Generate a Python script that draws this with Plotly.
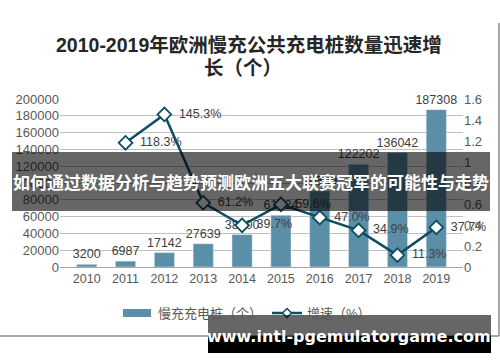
import plotly.graph_objects as go

years = ["2010", "2011", "2012", "2013", "2014", "2015", "2016", "2017", "2018", "2019"]
chargers = [3200, 6987, 17142, 27639, 38600, 61624, 90589, 122202, 136042, 187308]
growth = [None, 1.183, 1.453, 0.612, 0.397, 0.596, 0.470, 0.349, 0.113, 0.377]
growth_labels = ["", "118.3%", "145.3%", "61.2%", "39.7%", "59.6%", "47.0%", "34.9%", "11.3%", "37.7%"]

title_l1 = "2010-2019年欧洲慢充公共充电桩数量迅速增"
title_l2 = "长（个）"
bar_name = "慢充充电桩（个）"
line_name = "增速（%）"
banner_text = "如何通过数据分析与趋势预测欧洲五大联赛冠军的可能性与走势"
url_text = "www.intl-pgemulatorgame.com"

FONT = "Liberation Sans, Arial, Noto Sans CJK SC, sans-serif"
CJK_BOLD = "Noto Sans CJK SC, Liberation Sans, sans-serif"
BAR_COLOR = "#5b8fa7"
LINE_COLOR = "#0f4d62"

W, H = 500, 362
L, R, T, B = 60, 37, 99, 95
PW, PH = W - L - R, H - T - B


def px(x):
    return (x - L) / PW


def py(y):
    return (H - B - y) / PH


fig = go.Figure()
fig.add_trace(go.Bar(
    x=years, y=chargers, name=bar_name,
    marker=dict(color=BAR_COLOR),
    text=[str(v) for v in chargers], textposition="outside",
    constraintext="none",
    textfont=dict(size=12.5, color="#404040", family=FONT),
    cliponaxis=False,
))
fig.add_trace(go.Scatter(
    x=years, y=growth, name=line_name, yaxis="y2",
    mode="lines+markers+text",
    line=dict(color=LINE_COLOR, width=2.5),
    marker=dict(symbol="diamond", size=10.5, color="white", line=dict(color=LINE_COLOR, width=1.8)),
    text=[("\u00a0\u00a0" + s) if s else "" for s in growth_labels], textposition="middle right",
    textfont=dict(size=12.5, color="#404040", family=FONT),
    cliponaxis=False,
))

# legend items (drawn manually)
lx_bar0, lx_bar1, ly = 123, 151, 313
lx_line0, lx_line1 = 272, 302
dcx, dr = 287, 4.5

shapes = [
    dict(type="rect", xref="paper", yref="paper", x0=px(lx_bar0), x1=px(lx_bar1),
         y0=py(ly + 4), y1=py(ly - 4), fillcolor=BAR_COLOR, line=dict(width=0)),
    dict(type="line", xref="paper", yref="paper", x0=px(lx_line0), x1=px(lx_line1),
         y0=py(ly), y1=py(ly), line=dict(color=LINE_COLOR, width=2.5)),
    dict(type="path", xref="paper", yref="paper",
         path="M {:.4f},{:.4f} L {:.4f},{:.4f} L {:.4f},{:.4f} L {:.4f},{:.4f} Z".format(
             px(dcx), py(ly - dr), px(dcx + dr), py(ly), px(dcx), py(ly + dr), px(dcx - dr), py(ly)),
         fillcolor="white", line=dict(color=LINE_COLOR, width=1.5)),
    # chart frame lines
    dict(type="line", xref="paper", yref="paper", x0=px(0), x1=px(499), y0=py(336), y1=py(336),
         line=dict(color="#8a8a8a", width=1.5), layer="above"),
    dict(type="line", xref="paper", yref="paper", x0=px(499), x1=px(499), y0=py(23), y1=py(336),
         line=dict(color="#8a8a8a", width=1.5), layer="above"),
    # overlay banner
    dict(type="rect", xref="paper", yref="paper", x0=px(12), x1=px(490), y0=py(211), y1=py(152),
         fillcolor="rgba(0,0,0,0.6)", line=dict(width=0), layer="above"),
    # bottom url banner
    dict(type="rect", xref="paper", yref="paper", x0=px(208), x1=px(491), y0=py(336), y1=py(315),
         fillcolor="rgba(0,0,0,0.6)", line=dict(width=0), layer="above"),
    dict(type="rect", xref="paper", yref="paper", x0=px(208), x1=px(491), y0=py(353), y1=py(336),
         fillcolor="#000000", line=dict(width=0), layer="above"),
]


def ann(text, x, y, size, color, family, xanchor="center"):
    return dict(text=text, xref="paper", yref="paper", x=px(x), y=py(y),
                xanchor=xanchor, yanchor="middle", showarrow=False,
                font=dict(size=size, color=color, family=family))


annotations = [
    ann("<b>" + title_l1 + "</b>", 249, 45, 19.5, "#262626", FONT),
    ann("<b>" + title_l2 + "</b>", 243, 68, 19.5, "#262626", FONT),
    ann(bar_name, 156, ly, 13, "#595959", FONT, xanchor="left"),
    ann(line_name, 305, ly, 13, "#595959", FONT, xanchor="left"),
    ann("<b>" + banner_text + "</b>", 251, 181, 17, "white", CJK_BOLD),
    ann("<b>" + url_text + "</b>", 349, 336, 16, "white", "DejaVu Sans, sans-serif"),
]

fig.update_layout(
    width=W, height=H,
    margin=dict(l=L, r=R, t=T, b=B, autoexpand=False),
    paper_bgcolor="white", plot_bgcolor="white",
    font=dict(family=FONT, color="#595959", size=12.5),
    bargap=0.48,
    showlegend=False,
    xaxis=dict(showgrid=False, showline=True, linecolor="#a6a6a6", linewidth=1,
               ticks="", tickfont=dict(size=12.5, color="#595959")),
    yaxis=dict(range=[0, 200000], dtick=20000, tickformat="d", showgrid=True,
               gridcolor="#bfbfbf", gridwidth=1, zeroline=False, showline=False,
               tickfont=dict(size=13, color="#595959")),
    yaxis2=dict(range=[0, 1.6], dtick=0.2, overlaying="y", side="right", showgrid=False,
                zeroline=False, showline=False, tickfont=dict(size=13, color="#595959")),
    shapes=shapes,
    annotations=annotations,
)

fig.write_html("out.html", config={"displayModeBar": False},
               post_script="document.body.style.margin='0';")
